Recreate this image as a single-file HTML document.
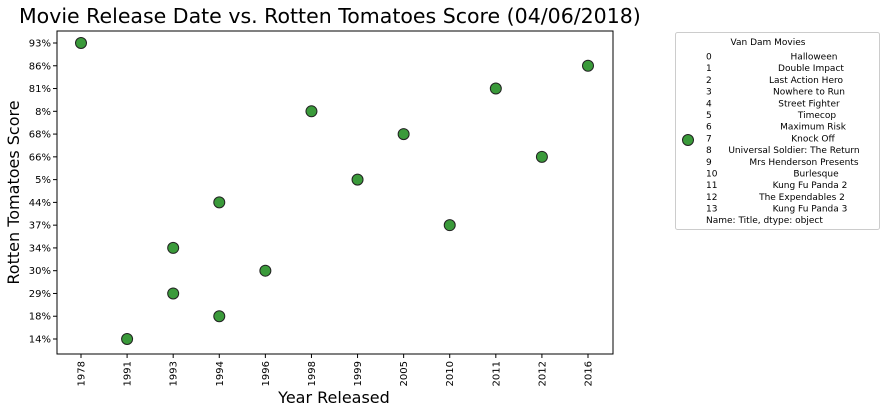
<!DOCTYPE html>
<html><head><meta charset="utf-8"><style>
body{margin:0;background:#fff}
svg{font-family:"DejaVu Sans","Liberation Sans",sans-serif}
</style></head><body>
<svg id="c" width="885" height="413" xmlns="http://www.w3.org/2000/svg"></svg>
<script>
const years=["1978","1991","1993","1994","1996","1998","1999","2005","2010","2011","2012","2016"];
const scoreCats=["14%","18%","29%","30%","34%","37%","44%","5%","66%","68%","8%","81%","86%","93%"];
const pointYears=["1994","2005","1994","1993","1998","1993","2016","1999","1978","2011","2010","1991","2012","1996"];
const pointScores=["18%","68%","44%","29%","8%","34%","86%","5%","93%","81%","37%","14%","66%","30%"];
const titles=["Halloween","Double Impact","Last Action Hero","Nowhere to Run","Street Fighter","Timecop","Maximum Risk","Knock Off","Universal Soldier: The Return","Mrs Henderson Presents","Burlesque","Kung Fu Panda 2","The Expendables 2","Kung Fu Panda 3"];
const titleX=[814,811,806,809,809,817,813,813,794,804,816,810,802,810];

const svg=document.getElementById('c');
const NS="http://www.w3.org/2000/svg";
function mk(t,a,txt){const e=document.createElementNS(NS,t);for(const k in a)e.setAttribute(k,a[k]);if(txt!==undefined)e.textContent=txt;svg.appendChild(e);return e;}
const L=57,R=613,T=31,B=354;
const xs=i=>81+i*(588-81)/(years.length-1);
const ys=i=>339-i*(339-43)/(scoreCats.length-1);
const X=v=>xs(years.indexOf(v));
const Y=v=>ys(scoreCats.indexOf(v));

let e=mk('text',{x:19,y:23,'font-size':20.5,fill:'#000'},'Movie Release Date vs. Rotten Tomatoes Score (04/06/2018)');


e=mk('rect',{x:L,y:T,width:R-L,height:B-T,fill:'none',stroke:'#000','stroke-width':1});



years.forEach((y,i)=>{
  const x=xs(i);
  let t=mk('line',{x1:x,x2:x,y1:B,y2:B+4,stroke:'#000'});
  
  
  let l=mk('text',{x:0,y:0,'font-size':10,'text-anchor':'end',transform:`translate(${x+3.5},${B+7}) rotate(-90)`},y);
  
  
});
scoreCats.forEach((s,i)=>{
  const y=ys(i);
  let t=mk('line',{x1:L-4,x2:L,y1:y,y2:y,stroke:'#000'});
  
  
  let l=mk('text',{x:L-6,y:y+3.5,'font-size':10,'text-anchor':'end'},s);
  
  
});
e=mk('text',{x:(L+R)/2-1,y:403,'font-size':16,'text-anchor':'middle'},'Year Released');


e=mk('text',{x:0,y:0,'font-size':16,'text-anchor':'middle',transform:`translate(19,${(T+B)/2}) rotate(-90)`},'Rotten Tomatoes Score');



pointYears.forEach((py,i)=>{
  let c=mk('circle',{cx:X(py),cy:Y(pointScores[i]),r:5.5,fill:'#3a9a3a',stroke:'#222','stroke-width':1});
  
  
});

e=mk('rect',{x:675.5,y:32.5,width:204,height:197,fill:'#fff',stroke:'#ccc',rx:2});


e=mk('text',{x:768,y:45,'font-size':9,'text-anchor':'middle'},'Van Dam Movies');


e=mk('circle',{cx:688,cy:140,r:5.5,fill:'#3a9a3a',stroke:'#222'});


titles.forEach((t,i)=>{
  const y=59.5+i*11.7;
  let a=mk('text',{x:706,y:y,'font-size':9},String(i));
  
  
  let b=mk('text',{x:titleX[i],y:y,'font-size':9,'text-anchor':'middle'},t);
  
  
});
e=mk('text',{x:706,y:223,'font-size':9},'Name: Title, dtype: object');


</script>
</body></html>
